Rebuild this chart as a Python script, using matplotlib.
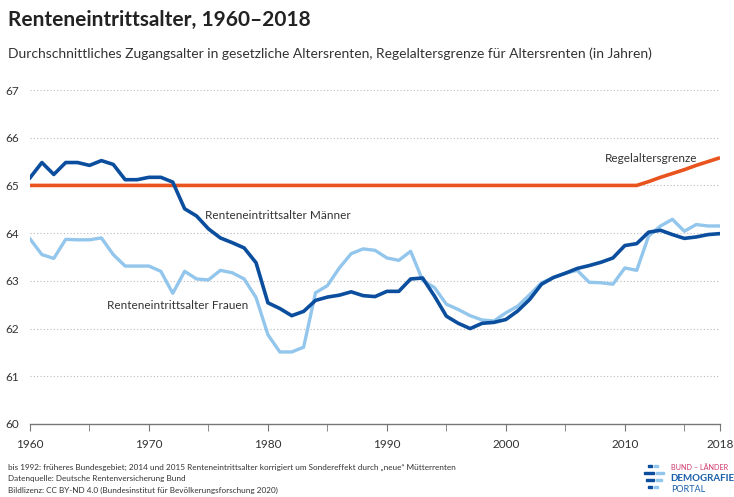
import matplotlib
matplotlib.use('Agg')
import matplotlib.pyplot as plt
from matplotlib.patches import Rectangle

plt.rcParams['font.family'] = ['Lato', 'DejaVu Sans']

# --- Daten ---
years = list(range(1960, 2019))

maenner = [65.16, 65.48, 65.23, 65.48, 65.48, 65.42, 65.52, 65.44, 65.12, 65.12,
           65.17, 65.17, 65.07, 64.51, 64.36, 64.09, 63.90, 63.80, 63.69, 63.38,
           62.54, 62.42, 62.27, 62.36, 62.59, 62.66, 62.70, 62.77, 62.69, 62.67,
           62.78, 62.78, 63.04, 63.06, 62.68, 62.26, 62.11, 62.00, 62.11, 62.13,
           62.19, 62.37, 62.61, 62.93, 63.07, 63.16, 63.26, 63.32, 63.39, 63.48,
           63.74, 63.78, 64.02, 64.06, 63.97, 63.89, 63.92, 63.97, 63.99]

frauen = [63.88, 63.55, 63.47, 63.87, 63.86, 63.86, 63.90, 63.55, 63.31, 63.31,
          63.31, 63.20, 62.74, 63.20, 63.04, 63.02, 63.22, 63.17, 63.04, 62.65,
          61.87, 61.51, 61.51, 61.61, 62.75, 62.90, 63.27, 63.57, 63.67, 63.64,
          63.48, 63.43, 63.62, 63.01, 62.86, 62.51, 62.40, 62.27, 62.18, 62.16,
          62.33, 62.47, 62.71, 62.96, 63.07, 63.16, 63.22, 62.97, 62.96, 62.93,
          63.27, 63.22, 63.94, 64.15, 64.29, 64.04, 64.18, 64.15, 64.15]

grenze_jahre = [1960, 2011, 2012, 2013, 2014, 2015, 2016, 2017, 2018]
grenze = [65.0, 65.0, 65.08, 65.17, 65.25, 65.33, 65.42, 65.5, 65.58]

x_ticks = [1960, 1970, 1980, 1990, 2000, 2010, 2018]
x_minor = [1965, 1975, 1985, 1995, 2005, 2015]
y_ticks = [60, 61, 62, 63, 64, 65, 66, 67]

# --- Farben ---
c_orange = '#E9531D'
c_dark = '#0B4E9E'
c_light = '#93C6EC'
c_text = '#333333'

fig = plt.figure(figsize=(7.34, 4.97), dpi=100)
ax = fig.add_axes([30 / 734, 1 - 424 / 497, 690 / 734, 334 / 497])

ax.plot(grenze_jahre, grenze, color=c_orange, linewidth=2.6, solid_capstyle='butt', zorder=3)
ax.plot(years, frauen, color=c_light, linewidth=2.4, solid_joinstyle='round', zorder=4)
ax.plot(years, maenner, color=c_dark, linewidth=2.6, solid_joinstyle='round', zorder=5)

ax.set_xlim(1960, 2018)
ax.set_ylim(60, 67)

for y in y_ticks[1:]:
    ax.axhline(y, color='#bbbbbb', linewidth=0.8, linestyle=(0, (1, 2)), zorder=1)

for s in ['top', 'right', 'left']:
    ax.spines[s].set_visible(False)
ax.spines['bottom'].set_color('#777777')
ax.spines['bottom'].set_linewidth(1.0)

ax.set_yticks(y_ticks)
ax.set_yticklabels([str(v) for v in y_ticks], fontsize=8.5, color=c_text)
ax.tick_params(axis='y', length=0, pad=8)
ax.set_xticks(x_ticks)
ax.set_xticklabels([str(v) for v in x_ticks], fontsize=8.5, color=c_text)
ax.set_xticks(x_minor, minor=True)
ax.tick_params(axis='x', which='both', length=5, color='#777777', direction='out', pad=6)

# Beschriftungen der Linien
ax.text(2008.3, 65.56, 'Regelaltersgrenze', fontsize=8.5, color=c_text, va='center', ha='left')
ax.text(1974.7, 64.38, 'Renteneintrittsalter Männer', fontsize=8.5, color=c_text, va='center', ha='left')
ax.text(1966.5, 62.49, 'Renteneintrittsalter Frauen', fontsize=8.5, color=c_text, va='center', ha='left')

# Titel
fig.text(8 / 734, 1 - 20 / 497, 'Renteneintrittsalter, 1960–2018', fontsize=15, fontweight='bold',
         color='#222222', va='center', ha='left')
fig.text(8 / 734, 1 - 54 / 497,
         'Durchschnittliches Zugangsalter in gesetzliche Altersrenten, Regelaltersgrenze für Altersrenten (in Jahren)',
         fontsize=10, color=c_text, va='center', ha='left')

# Fußnoten
notes = ['bis 1992: früheres Bundesgebiet; 2014 und 2015 Renteneintrittsalter korrigiert um Sondereffekt durch „neue“ Mütterrenten',
         'Datenquelle: Deutsche Rentenversicherung Bund',
         'Bildlizenz: CC BY-ND 4.0 (Bundesinstitut für Bevölkerungsforschung 2020)']
for i, n in enumerate(notes):
    fig.text(8 / 734, 1 - (467 + i * 11.5) / 497, n, fontsize=5.9, color=c_text, va='center', ha='left')

# Logo
bars = [(648, 467, 4, c_dark), (654, 467, 4, c_light),
        (644, 474, 10, c_dark), (656, 474, 8, c_light),
        (646, 481, 8, c_dark), (656, 481, 6, c_light),
        (648, 488, 4, c_dark), (654, 488, 4, c_light)]
for bx, by, bw, bc in bars:
    fig.patches.append(Rectangle((bx / 734, 1 - by / 497), bw / 734, 2.5 / 497,
                                 transform=fig.transFigure, color=bc))
fig.text(671 / 734, 1 - 468 / 497, 'BUND – LÄNDER', fontsize=5.2, color='#D0376B', va='center', ha='left')
fig.text(670 / 734, 1 - 478.5 / 497, 'DEMOGRAFIE', fontsize=7, fontweight='bold', color='#1B5FAA', va='center', ha='left')
fig.text(671 / 734, 1 - 489 / 497, 'PORTAL', fontsize=6.5, color='#1B5FAA', va='center', ha='left')

fig.savefig('out.png', dpi=100)
